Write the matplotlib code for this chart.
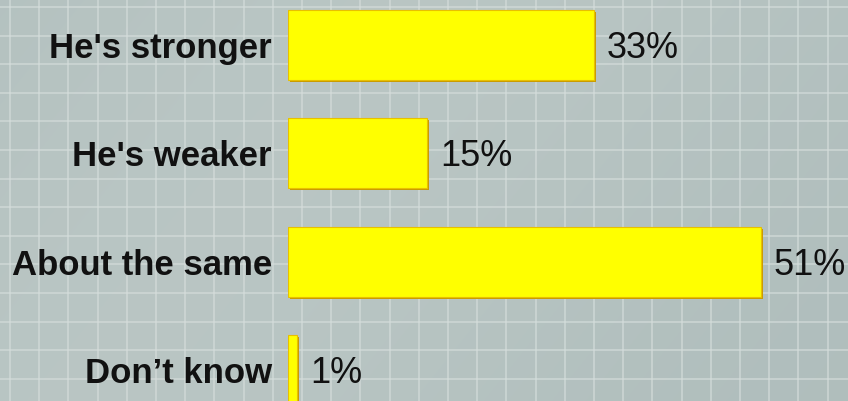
import numpy as np
import matplotlib
matplotlib.use('Agg')
import matplotlib.pyplot as plt

categories = ["He's stronger", "He's weaker", "About the same", "Don\u2019t know"]
values = [33, 15, 51, 1]
value_labels = ['33%', '15%', '51%', '1%']

W, H = 848, 401
fig = plt.figure(figsize=(W / 100, H / 100), dpi=100)

# background with grid
bg = fig.add_axes([0, 0, 1, 1])
bg.set_xlim(0, W)
bg.set_ylim(H, 0)
yy, xx = np.mgrid[0:H, 0:W]
shade = 0.5 + 0.5 * np.sin((xx + yy * 0.8) / 260.0)
base = np.array([0.69, 0.745, 0.74])
light = np.array([0.75, 0.795, 0.785])
img = base[None, None, :] * (1 - shade[..., None] * 0.6) + light[None, None, :] * (shade[..., None] * 0.6)
bg.imshow(img, extent=(0, W, H, 0), aspect='auto', zorder=0)
for gx in np.arange(10, W, 29.2):
    bg.axvline(gx, color='#d6dedc', lw=1.3, alpha=0.65, zorder=1)
for gy in np.arange(7, H, 28.6):
    bg.axhline(gy, color='#d6dedc', lw=1.3, alpha=0.65, zorder=1)
bg.axis('off')

# bar axes: left edge at x=288px, 1% = 9.27px
px_per_pct = 9.27
left = 288
ax = fig.add_axes([left / W, 0, (W - left) / W, 1])
ax.set_xlim(0, (W - left) / px_per_pct)
spacing = 108.3
ax.set_ylim(3 + (H - 370) / spacing, -45 / spacing)
ax.patch.set_alpha(0)
ax.axis('off')

ypos = np.arange(len(categories))
# shadow
ax.barh(ypos + 2 / spacing, values, height=70 / spacing, left=2 / px_per_pct,
        color='#c99a00', zorder=2)
ax.barh(ypos, values, height=70 / spacing, color='#ffff00', edgecolor='#e8c000',
        linewidth=0.8, zorder=3)

dy = 3.5 / spacing
for y, v, lab, cat in zip(ypos, values, value_labels, categories):
    ax.text(v + 13 / px_per_pct, y + dy, lab, va='center', ha='left',
            fontsize=26, family='Liberation Sans', color='#111111', zorder=4)
    ax.text(-16 / px_per_pct, y + dy, cat, va='center', ha='right', clip_on=False,
            fontsize=25, family='Liberation Sans', fontweight='bold',
            color='#111111', zorder=4)

fig.savefig('out.png', dpi=100)
